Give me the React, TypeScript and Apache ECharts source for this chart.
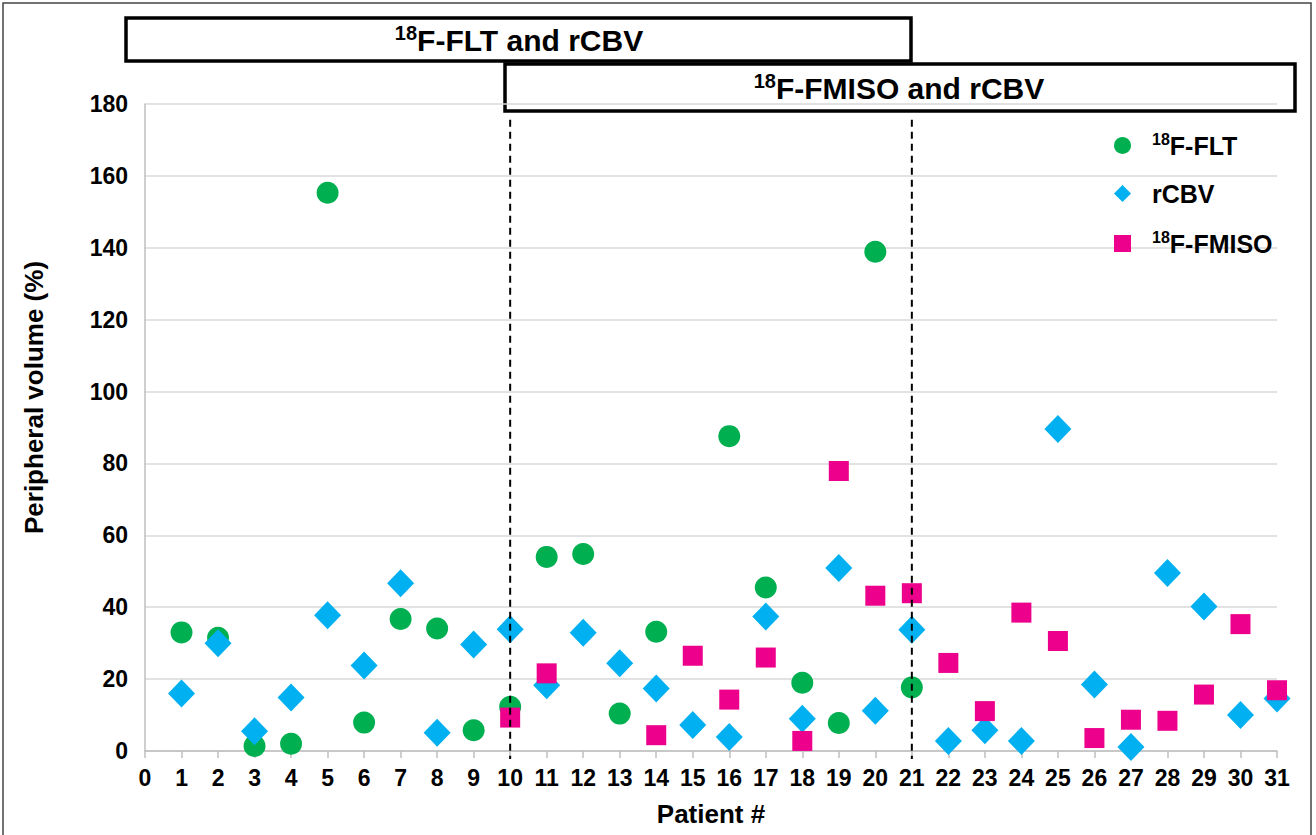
import React, { useEffect, useRef } from "react";
import * as echarts from "echarts";

const patients = [1, 2, 3, 4, 5, 6, 7, 8, 9, 10, 11, 12, 13, 14, 15, 16, 17, 18, 19, 20, 21, 22, 23, 24, 25, 26, 27, 28, 29, 30, 31];
const fltValues = [33, 31.5, 1.4, 2.0, 155.3, 7.9, 36.7, 34.1, 5.8, 12.3, 54.0, 54.8, 10.4, 33.2, null, 87.6, 45.5, 19.0, 7.8, 138.9, 17.7];
const rcbvValues = [16.0, 30.0, 5.5, 14.9, 37.8, 23.8, 46.7, 5.1, 29.6, 33.9, 18.3, 32.9, 24.4, 17.4, 7.2, 3.9, 37.4, 9.0, 50.9, 11.2, 33.7, 2.8, 5.8, 2.8, 89.6, 18.5, 1.1, 49.5, 40.2, 10.0, 14.6];
const fmisoPatients = [10, 11, 12, 13, 14, 15, 16, 17, 18, 19, 20, 21, 22, 23, 24, 25, 26, 27, 28, 29, 30, 31];
const fmisoValues = [9.3, 21.6, null, null, 4.4, 26.5, 14.3, 26.0, 2.8, 77.9, 43.2, 43.9, 24.5, 11.1, 38.5, 30.6, 3.6, 8.7, 8.4, 15.7, 35.3, 16.9];
const seriesNames = ["18F-FLT", "rCBV", "18F-FMISO"];
const groupBoundaries = [10, 21];
const boxTitles = ["F-FLT and rCBV", "F-FMISO and rCBV"];

const FONT = "'Liberation Sans', Arial, Helvetica, sans-serif";

function pairs(xs: number[], ys: (number | null)[]) {
  const out: [number, number][] = [];
  ys.forEach((v, i) => {
    if (v !== null && v !== undefined) out.push([xs[i], v]);
  });
  return out;
}

export default function App() {
  const ref = useRef<HTMLDivElement>(null);
  useEffect(() => {
    if (!ref.current) return;
    const chart = echarts.init(ref.current, undefined, { renderer: "svg" });
    const supRich = (main: number, sup: number) => ({
      sup: { fontSize: sup, fontWeight: "bold", fontFamily: FONT, color: "#000", verticalAlign: "top", lineHeight: sup },
      t: { fontSize: main, fontWeight: "bold", fontFamily: FONT, color: "#000", lineHeight: main + 4 },
    });
    const option: any = {
      animation: false,
      backgroundColor: "#fff",
      grid: { left: 145, right: 39, top: 104, bottom: 84, containLabel: false },
      xAxis: {
        type: "value",
        min: 0,
        max: 31,
        interval: 1,
        name: "Patient #",
        nameLocation: "middle",
        nameGap: 50,
        nameTextStyle: { fontSize: 26, fontWeight: "bold", fontFamily: FONT, color: "#000" },
        axisLine: { show: true, lineStyle: { color: "#BFBFBF", width: 1.5 } },
        axisTick: { show: true, length: 7, lineStyle: { color: "#BFBFBF", width: 1.5 } },
        axisLabel: { fontSize: 23, fontWeight: "bold", fontFamily: FONT, color: "#000", margin: 15 },
        splitLine: { show: false },
      },
      yAxis: {
        type: "value",
        min: 0,
        max: 180,
        interval: 20,
        name: "Peripheral volume (%)",
        nameLocation: "middle",
        nameGap: 98,
        nameRotate: 90,
        nameTextStyle: { fontSize: 26, fontWeight: "bold", fontFamily: FONT, color: "#000", padding: [0, 0, 0, 60] },
        axisLine: { show: true, lineStyle: { color: "#BFBFBF", width: 1.5 } },
        axisTick: { show: false },
        axisLabel: { fontSize: 23, fontWeight: "bold", fontFamily: FONT, color: "#000", margin: 17 },
        splitLine: { show: true, lineStyle: { color: "#D9D9D9", width: 1.5 } },
      },
      legend: {
        data: seriesNames,
        orient: "vertical",
        left: 1114,
        top: 131,
        padding: 0,
        itemWidth: 17,
        itemHeight: 17,
        itemGap: 23,
        formatter: (name: string) =>
          name.startsWith("18F") ? `{sup|18}{t|${name.slice(2)}}` : `{t|${name}}`,
        textStyle: {
          padding: [0, 0, 0, 16],
          rich: supRich(25, 16),
        },
      },
      graphic: [
        {
          type: "rect",
          shape: { x: 3, y: 3, width: 1308, height: 840 },
          style: { fill: "none", stroke: "#444", lineWidth: 1.5 },
          silent: true,
        },
        {
          type: "rect",
          shape: { x: 126, y: 18, width: 785, height: 43 },
          style: { fill: "#fff", stroke: "#000", lineWidth: 3.5 },
          silent: true,
        },
        {
          type: "text",
          x: 519,
          y: 40,
          style: {
            text: `{sup|18}{t|${boxTitles[0]}}`,
            align: "center",
            verticalAlign: "middle",
            rich: supRich(30, 20),
          },
          silent: true,
        },
        {
          type: "rect",
          shape: { x: 505, y: 64, width: 790, height: 47 },
          style: { fill: "#fff", stroke: "#000", lineWidth: 3.5 },
          silent: true,
        },
        {
          type: "text",
          x: 899,
          y: 88,
          style: {
            text: `{sup|18}{t|${boxTitles[1]}}`,
            align: "center",
            verticalAlign: "middle",
            rich: supRich(30, 20),
          },
          silent: true,
        },
      ],
      series: [
        {
          name: seriesNames[0],
          type: "scatter",
          symbol: "circle",
          symbolSize: 22,
          itemStyle: { color: "#00B050", opacity: 1 },
          data: pairs(patients, fltValues),
          z: 2,
        },
        {
          name: seriesNames[1],
          type: "scatter",
          symbol: "diamond",
          symbolSize: [27, 28],
          itemStyle: { color: "#00B0F0", opacity: 1 },
          data: pairs(patients, rcbvValues),
          z: 3,
        },
        {
          name: seriesNames[2],
          type: "scatter",
          symbol: "rect",
          symbolSize: 20,
          itemStyle: { color: "#EC008C", opacity: 1 },
          data: pairs(fmisoPatients, fmisoValues),
          z: 4,
        },
        {
          name: "boundaries",
          type: "custom",
          silent: true,
          clip: false,
          z: 10,
          data: groupBoundaries.map((b) => [b]),
          encode: { x: 0 },
          renderItem: (params: any, api: any) => {
            const b = api.value(0);
            const top = api.coord([b, 175.6]);
            const bottom = api.coord([b, 0]);
            return {
              type: "line",
              shape: { x1: top[0], y1: top[1], x2: bottom[0], y2: bottom[1] + 8 },
              style: { stroke: "#000", lineWidth: 2, lineDash: [7, 5] },
            };
          },
        },
      ],
    };
    chart.setOption(option);
    return () => chart.dispose();
  }, []);
  return (
    <div
      ref={ref}
      style={{ position: "fixed", left: 0, top: 0, width: 1316, height: 835, background: "#fff" }}
    />
  );
}
